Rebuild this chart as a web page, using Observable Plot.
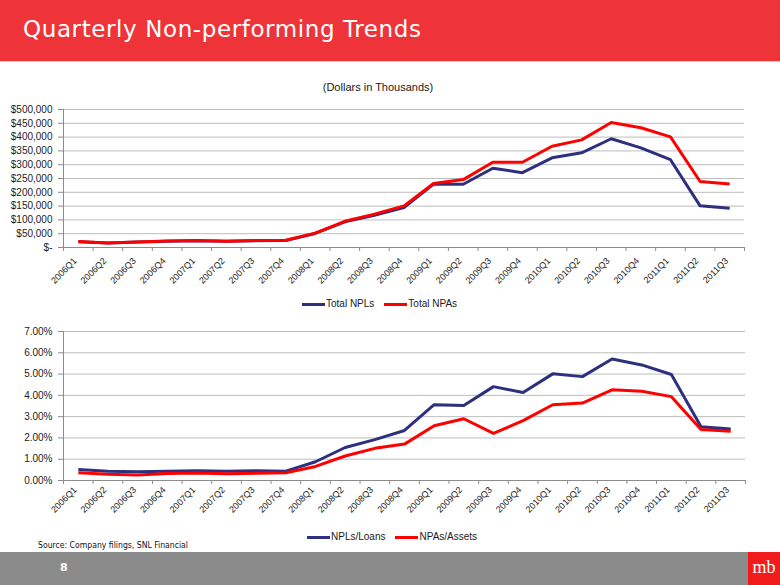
<!DOCTYPE html>
<html>
<head>
<meta charset="utf-8">
<script src="https://cdn.jsdelivr.net/npm/d3@7"></script>
<script src="https://cdn.jsdelivr.net/npm/@observablehq/plot@0.6"></script>
<style>
  html, body { margin: 0; padding: 0; background: #fff; }
  #page { position: relative; width: 780px; height: 585px; overflow: hidden; background: #fff; font-family: "Liberation Sans", Arial, sans-serif; }
  #header { position: absolute; left: 0; top: 0; width: 780px; height: 61px; background: #EE3439; border-bottom: 1px solid #f6c9ca; }
  #title { position: absolute; left: 23px; top: 16px; color: #fff; font-family: "DejaVu Sans", Verdana, sans-serif; font-size: 23px; letter-spacing: 0.6px; white-space: nowrap; }
  #subtitle { position: absolute; left: 0; width: 756px; top: 81px; text-align: center; font-size: 11px; color: #1a1a1a; }
  .plot { position: absolute; left: 0; }
  .legend { position: absolute; font-size: 10px; color: #1a1a1a; white-space: nowrap; }
  .legend span.sw { display: inline-block; width: 23px; height: 3px; vertical-align: middle; margin-right: 1px; }
  .legend span.item { margin-right: 10px; }
  #source { position: absolute; left: 38px; top: 540px; font-family: "DejaVu Sans Condensed", "DejaVu Sans", sans-serif; font-size: 8.6px; color: #111; white-space: nowrap; }
  #footer { position: absolute; left: 0; top: 552px; width: 780px; height: 33px; background: #8b8b8c; }
  #pagenum { position: absolute; left: 60px; top: 9px; color: #fff; font-family: "DejaVu Sans", sans-serif; font-weight: bold; font-size: 11px; }
  #logo { position: absolute; left: 748px; top: 0; width: 32px; height: 33px; background: #F21C1C; color: #fff; font-family: "Liberation Serif", serif; font-size: 18px; line-height: 31px; text-align: center; }
</style>
</head>
<body>
<div id="page">
  <div id="header"><div id="title">Quarterly Non-performing Trends</div></div>
  <div id="subtitle">(Dollars in Thousands)</div>
  <div id="chart1" class="plot" style="top:100px"></div>
  <div id="legend1" class="legend" style="left:302px; top:298px"></div>
  <div id="chart2" class="plot" style="top:320px"></div>
  <div id="legend2" class="legend" style="left:307px; top:531px"></div>
  <div id="source">Source: Company filings, SNL Financial</div>
  <div id="footer"><div id="pagenum">8</div><div id="logo">mb</div></div>
</div>
<script>
const quarters = ["2006Q1","2006Q2","2006Q3","2006Q4","2007Q1","2007Q2","2007Q3","2007Q4",
  "2008Q1","2008Q2","2008Q3","2008Q4","2009Q1","2009Q2","2009Q3","2009Q4",
  "2010Q1","2010Q2","2010Q3","2010Q4","2011Q1","2011Q2","2011Q3"];

// Dollars in thousands
const totalNPLs = [21000, 16000, 19500, 23000, 24500, 22500, 24500, 25000,
  51000, 93000, 117000, 145000, 230000, 229000, 287000, 271000,
  325000, 343000, 394000, 361000, 318000, 151000, 142000];
const totalNPAs = [22000, 16500, 20000, 23500, 25000, 23000, 25500, 26000,
  52000, 95000, 121000, 151000, 232000, 246000, 309000, 309000,
  367000, 390000, 453000, 434000, 401000, 239000, 230000];

// Percent
const nplsToLoans = [0.52, 0.44, 0.41, 0.43, 0.46, 0.44, 0.46, 0.44,
  0.88, 1.55, 1.92, 2.35, 3.56, 3.52, 4.41, 4.13,
  5.01, 4.88, 5.71, 5.43, 4.98, 2.53, 2.42];
const npasToAssets = [0.36, 0.29, 0.26, 0.33, 0.35, 0.32, 0.34, 0.36,
  0.66, 1.15, 1.51, 1.71, 2.57, 2.90, 2.21, 2.81,
  3.56, 3.64, 4.26, 4.19, 3.94, 2.40, 2.31];

const dollarTicks = [0, 50000, 100000, 150000, 200000, 250000, 300000, 350000, 400000, 450000, 500000];
const pctTicks = [0, 1, 2, 3, 4, 5, 6, 7];

const NAVY = "#2E2F7F";
const RED = "#FF0000";
const GRID = "#BDBDBD";
const AXIS = "#8C8C8C";
const TEXT = "#222";

function rows(a, b, nameA, nameB) {
  const out = [];
  quarters.forEach((q, i) => out.push({i, series: nameA, v: a[i]}));
  quarters.forEach((q, i) => out.push({i, series: nameB, v: b[i]}));
  return out;
}

function makeChart(opts) {
  const data = rows(opts.a, opts.b, opts.nameA, opts.nameB);
  const idx = quarters.map((q, i) => i);
  const bounds = d3.range(-0.5, quarters.length, 1);
  return Plot.plot({
    width: 780,
    height: opts.height,
    marginLeft: 63,
    marginRight: opts.marginRight,
    marginTop: opts.marginTop,
    marginBottom: opts.marginBottom,
    style: {fontFamily: "'Liberation Sans', Arial, sans-serif", fontSize: "10px", color: TEXT, background: "transparent"},
    x: {type: "linear", domain: [-0.5, quarters.length - 0.5]},
    y: {type: "linear", domain: opts.domain},
    color: {domain: [opts.nameA, opts.nameB], range: [NAVY, RED]},
    marks: [
      Plot.gridY(opts.ticks, {stroke: GRID, strokeOpacity: 1, strokeWidth: 1}),
      Plot.axisY({ticks: opts.ticks, tickFormat: opts.format, tickSize: 5, tickPadding: 6, stroke: AXIS, fill: TEXT, label: null}),
      Plot.ruleX([-0.5], {stroke: AXIS}),
      Plot.ruleY([opts.domain[0]], {stroke: AXIS}),
      Plot.axisX({ticks: bounds, tickFormat: () => "", tickSize: 4, stroke: AXIS, label: null}),
      Plot.axisX({ticks: idx, tickFormat: i => quarters[i], tickSize: 0, tickPadding: opts.xPad, tickRotate: -45, dx: -3, fontSize: 9, fill: TEXT, label: null}),
      Plot.lineY(data, {x: "i", y: "v", z: "series", stroke: "series", strokeWidth: 3, strokeLinejoin: "round", strokeLinecap: "butt"})
    ]
  });
}

document.getElementById("chart1").appendChild(makeChart({
  a: totalNPLs, b: totalNPAs, nameA: "Total NPLs", nameB: "Total NPAs",
  height: 200, marginTop: 9, marginBottom: 53, marginRight: 36, xPad: 12,
  domain: [0, 500000], ticks: dollarTicks,
  format: d => d === 0 ? "$-" : "$" + d3.format(",")(d)
}));

document.getElementById("chart2").appendChild(makeChart({
  a: nplsToLoans, b: npasToAssets, nameA: "NPLs/Loans", nameB: "NPAs/Assets",
  height: 210, marginTop: 11, marginBottom: 50, marginRight: 35, xPad: 8,
  domain: [0, 7], ticks: pctTicks,
  format: d => d3.format(".2f")(d) + "%"
}));

function legend(el, names, colors) {
  const div = document.getElementById(el);
  names.forEach((n, k) => {
    const item = document.createElement("span");
    item.className = "item";
    const sw = document.createElement("span");
    sw.className = "sw";
    sw.style.background = colors[k];
    item.appendChild(sw);
    item.appendChild(document.createTextNode(n));
    div.appendChild(item);
  });
}
legend("legend1", ["Total NPLs", "Total NPAs"], [NAVY, RED]);
legend("legend2", ["NPLs/Loans", "NPAs/Assets"], [NAVY, RED]);
</script>
</body>
</html>
